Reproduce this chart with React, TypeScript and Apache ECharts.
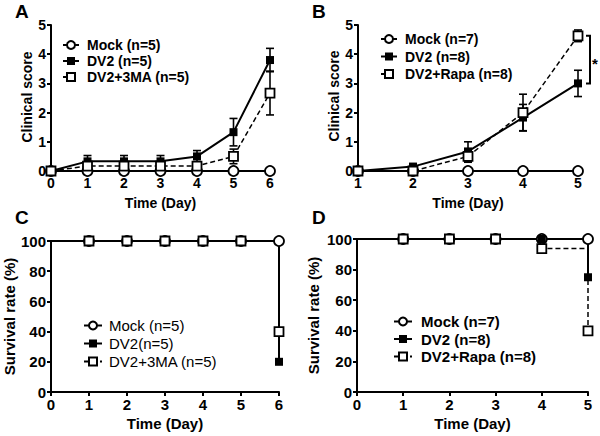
import React, { useEffect, useRef } from "react";
import * as echarts from "echarts";

// ---------- Data ----------
const daysA = [0, 1, 2, 3, 4, 5, 6];
const mockA = [0, 0, 0, 0, 0, 0, 0];
const dv2A = [0, 0.33, 0.33, 0.33, 0.5, 1.33, 3.8];
const dv2ErrA = [0, 0.2, 0.2, 0.2, 0.2, 0.47, 0.4];
const ma3A = [0, 0.17, 0.17, 0.17, 0.17, 0.5, 2.67];
const ma3ErrA = [0, 0.15, 0.15, 0.15, 0.15, 0.25, 0.75];

const daysB = [1, 2, 3, 4, 5];
const mockB = [0, 0, 0, 0, 0];
const dv2B = [0, 0.15, 0.67, 1.83, 3.0];
const dv2ErrB = [0, 0.1, 0.33, 0.45, 0.45];
const rapaB = [0, 0, 0.5, 2.0, 4.63];
const rapaErrB = [0, 0, 0.2, 0.63, 0.2];
const sigB = [[5, 4.63, 3.0]];

const daysC = [0, 1, 2, 3, 4, 5, 6];
const mockC = [100, 100, 100, 100, 100, 100, 100];
const dv2C = [100, 100, 100, 100, 100, 100, 20];
const ma3C = [100, 100, 100, 100, 100, 100, 40];

const daysD = [0, 1, 2, 3, 4, 5];
const mockD = [100, 100, 100, 100, 100, 100];
const dv2D = [100, 100, 100, 100, 100, 75];
const rapaD = [100, 100, 100, 100, 93.75, 40];

const legendA = ["Mock (n=5)", "DV2 (n=5)", "DV2+3MA (n=5)"];
const legendB = ["Mock (n=7)", "DV2 (n=8)", "DV2+Rapa (n=8)"];
const legendC = ["Mock (n=5)", "DV2(n=5)", "DV2+3MA (n=5)"];
const legendD = ["Mock (n=7)", "DV2 (n=8)", "DV2+Rapa (n=8)"];

const FONT = "'Liberation Sans', Arial, Helvetica, sans-serif";

const openCircle = { color: "#fff", borderColor: "#000", borderWidth: 1.8 };
const openSquare = { color: "#fff", borderColor: "#000", borderWidth: 1.8 };
const filled = { color: "#000", borderColor: "#000", borderWidth: 0 };

function pts(xs: number[], ys: number[], skipFirst = false) {
  return xs.map((x, i) =>
    skipFirst && i === 0 ? { value: [x, ys[i]], symbol: "none" } : [x, ys[i]]
  );
}
function errData(xs: number[], ys: number[], es: number[]) {
  return xs.map((x, i) => [x, ys[i], es[i]]).filter((d) => d[2] > 0);
}

function errSeries(idx: number, data: number[][]) {
  return {
    type: "custom",
    xAxisIndex: idx,
    yAxisIndex: idx,
    z: 1,
    clip: false,
    data,
    renderItem: (params: any, api: any) => {
      const x = api.value(0);
      const y = api.value(1);
      const e = api.value(2);
      const top = api.coord([x, y + e]);
      const bot = api.coord([x, Math.max(0, y - e)]);
      const w = 4;
      const st = { stroke: "#000", lineWidth: 1.6 };
      return {
        type: "group",
        children: [
          { type: "line", shape: { x1: top[0], y1: top[1], x2: bot[0], y2: bot[1] }, style: st },
          { type: "line", shape: { x1: top[0] - w, y1: top[1], x2: top[0] + w, y2: top[1] }, style: st },
          { type: "line", shape: { x1: bot[0] - w, y1: bot[1], x2: bot[0] + w, y2: bot[1] }, style: st },
        ],
      };
    },
  };
}

function axisBase(fontSize: number) {
  return {
    axisLine: { onZero: false, lineStyle: { color: "#000", width: 2 } },
    axisTick: { length: 4, lineStyle: { color: "#000", width: 2 } },
    axisLabel: { color: "#000", fontWeight: "bold", fontSize, fontFamily: FONT, margin: 5 },
    splitLine: { show: false },
    nameLocation: "middle",
    nameTextStyle: { color: "#000", fontWeight: "bold", fontSize, fontFamily: FONT },
  };
}

function lineS(name: string, idx: number, data: any[], kind: "mock" | "filled" | "open", step = false, size = 9) {
  const solid = kind !== "open";
  return {
    type: "line",
    name,
    xAxisIndex: idx,
    yAxisIndex: idx,
    data,
    step: step ? "end" : false,
    symbol: kind === "mock" ? "circle" : "rect",
    symbolSize: kind === "mock" ? size + 1 : kind === "filled" ? size - 1 : size,
    itemStyle: kind === "mock" ? openCircle : kind === "filled" ? filled : openSquare,
    lineStyle: solid
      ? { color: "#000", width: 2, type: "solid" }
      : { color: "#000", width: 1.5, type: [5, 3] },
    z: 2,
  };
}

function legendOf(left: number, top: number, names: string[], fontSize: number, weight: string, lh: number, gap: number, iw: number, pad: number) {
  const ts = { color: "#000", fontWeight: weight, fontSize, fontFamily: FONT, lineHeight: lh, padding: [0, 0, 0, pad] };
  return {
    orient: "vertical",
    left,
    top,
    padding: 0,
    itemWidth: iw,
    itemHeight: 10,
    itemGap: gap,
    selectedMode: false,
    data: names.map((n) => ({ name: n, textStyle: ts })),
    textStyle: ts,
  };
}

function yTitle(text: string, x: number, y: number) {
  return {
    type: "text",
    x,
    y,
    rotation: Math.PI / 2,
    style: { text, fontSize: 14, fontWeight: "bold", fontFamily: FONT, fill: "#000", align: "center", verticalAlign: "middle" },
  };
}

export default function App() {
  const ref = useRef<HTMLDivElement>(null);
  useEffect(() => {
    if (!ref.current) return;
    const chart = echarts.init(ref.current, null, { renderer: "svg" });
    const option: any = {
      animation: false,
      backgroundColor: "#fff",
      grid: [
        { left: 51, top: 25, width: 219, height: 146 },
        { left: 358, top: 25, width: 220, height: 146 },
        { left: 51, top: 241, width: 228, height: 151 },
        { left: 357, top: 239, width: 231, height: 153 },
      ],
      xAxis: [
        { ...axisBase(14), type: "value", gridIndex: 0, min: 0, max: 6, interval: 1, name: "Time (Day)", nameGap: 25 },
        { ...axisBase(14), type: "value", gridIndex: 1, min: 1, max: 5, interval: 1, name: "Time (Day)", nameGap: 25 },
        { ...axisBase(15), type: "value", gridIndex: 2, min: 0, max: 6, interval: 1, name: "Time (Day)", nameGap: 24 },
        { ...axisBase(15), type: "value", gridIndex: 3, min: 0, max: 5, interval: 1, name: "Time (Day)", nameGap: 24 },
      ],
      yAxis: [
        { ...axisBase(14), type: "value", gridIndex: 0, min: 0, max: 5, interval: 1 },
        { ...axisBase(14), type: "value", gridIndex: 1, min: 0, max: 5, interval: 1 },
        { ...axisBase(15), type: "value", gridIndex: 2, min: 0, max: 100, interval: 20, name: "Survival rate (%)", nameGap: 34 },
        { ...axisBase(15), type: "value", gridIndex: 3, min: 0, max: 100, interval: 20, name: "Survival rate (%)", nameGap: 36 },
      ],
      legend: [
        legendOf(62, 37, legendA, 14, "bold", 16, 0, 16, 3),
        legendOf(380, 31, legendB, 14, "bold", 16, 1.5, 16, 3),
        legendOf(83, 317, legendC, 15, "normal", 17, 1, 18, 2),
        legendOf(393, 313, legendD, 15, "bold", 17, 0.5, 18, 4),
      ],
      graphic: [
        { type: "text", left: 15, top: 2, style: { text: "A", fontSize: 19, fontWeight: "bold", fontFamily: FONT, fill: "#000" } },
        { type: "text", left: 312, top: 2, style: { text: "B", fontSize: 19, fontWeight: "bold", fontFamily: FONT, fill: "#000" } },
        { type: "text", left: 15, top: 208, style: { text: "C", fontSize: 19, fontWeight: "bold", fontFamily: FONT, fill: "#000" } },
        { type: "text", left: 312, top: 208, style: { text: "D", fontSize: 19, fontWeight: "bold", fontFamily: FONT, fill: "#000" } },
        yTitle("Clinical score", 27, 97),
        yTitle("Clinical score", 334, 96),
      ],
      series: [
        // Panel A
        errSeries(0, errData(daysA, dv2A, dv2ErrA)),
        errSeries(0, errData(daysA, ma3A, ma3ErrA)),
        lineS(legendA[0], 0, pts(daysA, mockA), "mock"),
        lineS(legendA[1], 0, pts(daysA, dv2A), "filled"),
        lineS(legendA[2], 0, pts(daysA, ma3A), "open"),
        // Panel B
        errSeries(1, errData(daysB, dv2B, dv2ErrB)),
        errSeries(1, errData(daysB, rapaB, rapaErrB)),
        lineS(legendB[0], 1, pts(daysB, mockB), "mock"),
        lineS(legendB[1], 1, pts(daysB, dv2B), "filled"),
        lineS(legendB[2], 1, pts(daysB, rapaB), "open"),
        {
          type: "custom",
          xAxisIndex: 1,
          yAxisIndex: 1,
          clip: false,
          data: sigB,
          renderItem: (params: any, api: any) => {
            const top = api.coord([api.value(0), api.value(1)]);
            const bot = api.coord([api.value(0), api.value(2)]);
            const x0 = top[0] + 8;
            const x1 = top[0] + 12;
            return {
              type: "group",
              children: [
                {
                  type: "polyline",
                  shape: { points: [[x0, top[1]], [x1, top[1]], [x1, bot[1]], [x0, bot[1]]] },
                  style: { stroke: "#000", lineWidth: 2, fill: "none" },
                },
                {
                  type: "text",
                  x: x1 + 5,
                  y: (top[1] + bot[1]) / 2 + 4,
                  style: { text: "*", fontSize: 15, fontWeight: "bold", fontFamily: FONT, fill: "#000", align: "center", verticalAlign: "middle" },
                },
              ],
            };
          },
        },
        // Panel C
        lineS(legendC[0], 2, pts(daysC, mockC, true), "mock", true),
        lineS(legendC[1], 2, pts(daysC, dv2C, true), "filled", true),
        lineS(legendC[2], 2, pts(daysC, ma3C, true), "open", true),
        // Panel D
        lineS(legendD[0], 3, pts(daysD, mockD, true), "mock", true),
        lineS(legendD[1], 3, pts(daysD, dv2D, true), "filled", true),
        lineS(legendD[2], 3, pts(daysD, rapaD, true), "open", true),
      ],
    };
    chart.setOption(option);
    return () => chart.dispose();
  }, []);
  return (
    <div
      ref={ref}
      style={{ position: "fixed", left: 0, top: 0, width: 600, height: 436, background: "#fff" }}
    />
  );
}
